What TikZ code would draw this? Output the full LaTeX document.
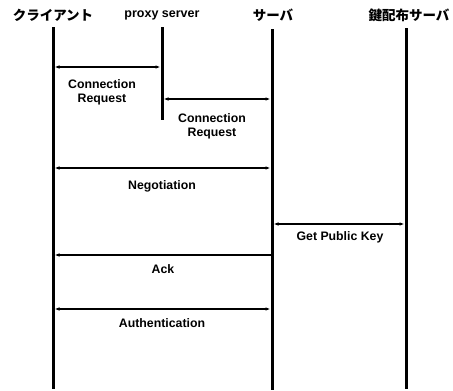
\documentclass[tikz,border=0pt]{standalone}
\usepackage{fontspec}
\setmainfont{Liberation Sans}
\newfontfamily\jpfont{Noto Sans CJK JP}
\usetikzlibrary{arrows.meta}
\begin{document}
\begin{tikzpicture}[x=1pt,y=-1pt,
  head/.style={font=\jpfont\bfseries\fontsize{13.5}{14}\selectfont, inner sep=0pt},
  headlat/.style={font=\bfseries\fontsize{12.5}{13}\selectfont, inner sep=0pt},
  lbl/.style={font=\bfseries\fontsize{12.3}{14}\selectfont, align=center, inner sep=0pt},
  life/.style={line width=3pt},
  msg/.style={line width=1.3pt, shorten <=1.5pt, shorten >=1.5pt},
  both/.style={msg, {Latex[length=5pt,width=3.6pt]}-{Latex[length=5pt,width=3.6pt]}},
  toleft/.style={msg, -{Latex[length=5pt,width=3.6pt]}}]
\useasboundingbox (0,0) rectangle (453,391);

% headers
\node[head] (hc) at (53,15) {クライアント};
\node[headlat] (hp) at (162,15) {proxy server};
\node[head] (hs) at (273,15) {サーバ};
\node[head] (hk) at (409,15) {鍵配布サーバ};

% lifelines
\coordinate (ct) at (53,27);   \coordinate (cb) at (53,389);
\coordinate (pt) at (162,27);  \coordinate (pb) at (162,120);
\coordinate (st) at (272,29);  \coordinate (sb) at (272,390);
\coordinate (kt) at (406,28);  \coordinate (kb) at (406,389);
\draw[life] (ct) -- (cb);
\draw[life] (pt) -- (pb);
\draw[life] (st) -- (sb);
\draw[life] (kt) -- (kb);

% message endpoints
\coordinate (c1) at (53,67);   \coordinate (p1) at (162,67);
\coordinate (p2) at (162,99);  \coordinate (s2) at (272,99);
\coordinate (c3) at (53,168);  \coordinate (s3) at (272,168);
\coordinate (s4) at (272,224); \coordinate (k4) at (406,224);
\coordinate (s5) at (272,255); \coordinate (c5) at (53,255);
\coordinate (c6) at (53,309);  \coordinate (s6) at (272,309);

\draw[both] (c1) -- (p1);
\draw[both] (p2) -- (s2);
\draw[both] (c3) -- (s3);
\draw[both] (s4) -- (k4);
\draw[toleft] (s5) -- (c5);
\draw[both] (c6) -- (s6);

% labels
\node[lbl] (l1) at (102,92) {Connection\\Request};
\node[lbl] (l2) at (212,126) {Connection\\Request};
\node[lbl] (l3) at (162,186) {Negotiation};
\node[lbl] (l4) at (340,237) {Get Public Key};
\node[lbl] (l5) at (163,269) {Ack};
\node[lbl] (l6) at (162,323) {Authentication};
\end{tikzpicture}
\end{document}
